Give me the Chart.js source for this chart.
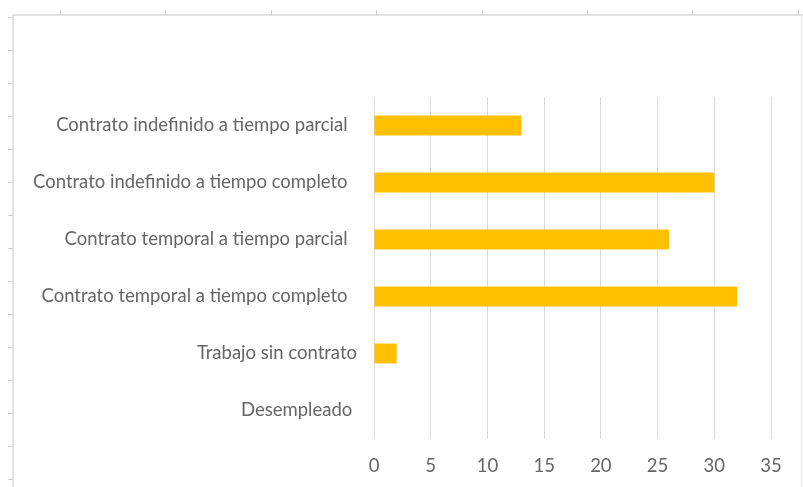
<!DOCTYPE html>
<html>
<head>
<meta charset="utf-8">
<script src="https://cdn.jsdelivr.net/npm/chart.js@4.4.1/dist/chart.umd.min.js"></script>
<style>
  html, body { margin: 0; padding: 0; background: #fff; }
  #wrap { width: 803px; height: 487px; position: relative; }
</style>
</head>
<body>
<div id="wrap"><canvas id="chart"></canvas></div>
<script>
// categories top to bottom, as shown
const categories = [
    "Contrato indefinido a tiempo parcial  ",
    "Contrato indefinido a tiempo completo  ",
    "Contrato temporal a tiempo parcial  ",
    "Contrato temporal a tiempo completo  ",
    "Trabajo sin contrato",
    "Desempleado "
];
const values = [13, 30, 26, 32, 2, 0];
const xTicks = [0, 5, 10, 15, 20, 25, 30, 35];

// spreadsheet cell borders behind the chart
const sheetLines = {
    id: "sheetLines",
    beforeDraw(chart) {
        let ctx = chart.ctx;
        ctx.save();
        ctx.fillStyle = "#fff";
        ctx.fillRect(0, 0, chart.width, chart.height);
        ctx.strokeStyle = "#d9d9d9";
        ctx.lineWidth = 1.5;
        ctx.beginPath();
        ctx.moveTo(13, 15); ctx.lineTo(803, 15);
        ctx.moveTo(13, 15); ctx.lineTo(13, 487);
        ctx.stroke();
        ctx.lineWidth = 1;
        ctx.strokeStyle = "#e8e8e8";
        ctx.beginPath();
        ctx.moveTo(801.5, 15); ctx.lineTo(801.5, 487);
        ctx.stroke();
        ctx.strokeStyle = "#d0d0d0";
        ctx.beginPath();
        for (let x = 60; x < 803; x += 105.4) {
            ctx.moveTo(Math.round(x) + 0.5, 10); ctx.lineTo(Math.round(x) + 0.5, 15);
        }
        for (let y = 17; y < 487; y += 33) {
            ctx.moveTo(8, Math.round(y) + 0.5); ctx.lineTo(13, Math.round(y) + 0.5);
        }
        ctx.stroke();
        ctx.restore();
    }
};

let ctx = document.getElementById("chart").getContext("2d");
new Chart(ctx, {
    type: "bar",
    data: {
        labels: categories,
        datasets: [{
            data: values,
            backgroundColor: "#ffc000",
            barPercentage: 0.35,
            categoryPercentage: 1
        }]
    },
    plugins: [sheetLines],
    options: {
        indexAxis: "y",
        responsive: true,
        maintainAspectRatio: false,
        animation: false,
        layout: { padding: { top: 97, right: 32, bottom: 0, left: 0 } },
        plugins: {
            legend: { display: false },
            tooltip: { enabled: false }
        },
        scales: {
            x: {
                min: 0,
                max: 35,
                afterBuildTicks: axis => { axis.ticks = xTicks.map(v => ({ value: v })); },
                afterFit: axis => { axis.height = 48; },
                grid: { color: "#d9d9d9", drawTicks: false },
                border: { display: false },
                ticks: {
                    color: "#666",
                    padding: 16,
                    font: { family: "Lato", size: 18.5 }
                }
            },
            y: {
                afterFit: axis => { axis.width = 374; },
                grid: { display: false, drawTicks: false },
                border: { display: false },
                ticks: {
                    color: "#666",
                    padding: 17,
                    font: { family: "Lato", size: 18.5 }
                }
            }
        }
    }
});
</script>
</body>
</html>
